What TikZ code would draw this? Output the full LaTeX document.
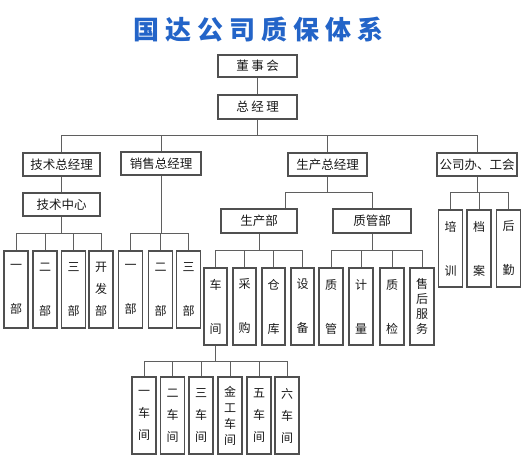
\documentclass[tikz,border=0pt]{standalone}
\usepackage{fontspec}
\newfontfamily\cjk{Noto Sans CJK SC}
\definecolor{boxgray}{RGB}{80,80,80}
\definecolor{linegray}{RGB}{95,95,95}
\definecolor{textdark}{RGB}{25,25,25}
\definecolor{titleblue}{RGB}{35,100,200}
\begin{document}
\begin{tikzpicture}[x=1pt,y=-1pt,
  box/.style={draw=boxgray, line width=1.1pt, fill=white, inner sep=0pt, text=textdark,
              font=\cjk\fontsize{12}{14}\selectfont, align=center},
  hbox/.style={box, minimum height=23pt, font=\cjk\fontsize{12.5}{14}\selectfont},
  vbox/.style={box, minimum width=24pt, minimum height=77pt},
  conn/.style={draw=linegray, line width=1pt}]
\useasboundingbox (0,0) rectangle (524,470);
\fill[white] (0,0) rectangle (524,470);

% title
\node[font=\cjk\bfseries\fontsize{26}{30}\selectfont, text=titleblue] (title) at (258.5,30)
  {国\hspace{6pt}达\hspace{6pt}公\hspace{6pt}司\hspace{6pt}质\hspace{6pt}保\hspace{6pt}体\hspace{6pt}系};

% bus coordinates
\coordinate (bus1) at (0,136);
\coordinate (bus2) at (0,233);
\coordinate (bus3) at (0,193);
\coordinate (bus4) at (0,250);
\coordinate (bus6) at (0,361);

% horizontal boxes
\node[hbox, minimum width=79pt, minimum height=22pt] (dsh) at (257.5,66) {董\hspace{2.5pt}事\hspace{2.5pt}会};
\node[hbox, minimum width=79pt, minimum height=24pt] (zjl) at (257.5,107) {总\hspace{2.5pt}经\hspace{2.5pt}理};
\node[hbox, minimum width=77pt] (jszjl) at (61.5,164.5) {技术总经理};
\node[hbox, minimum width=80pt] (xszjl) at (161,163.5) {销售总经理};
\node[hbox, minimum width=79pt] (sczjl) at (327.5,164.5) {生产总经理};
\node[hbox, minimum width=80pt] (gsb) at (477,164.5) {公司办、工会};
\node[hbox, minimum width=77pt] (jszx) at (61.5,204.5) {技术中心};
\node[hbox, minimum width=76pt, minimum height=24pt] (scb) at (259,221) {生产部};
\node[hbox, minimum width=78pt, minimum height=24pt] (zgb) at (372,221) {质管部};

% technical departments
\node[vbox] (a1) at (16,289.5) {一\\[30pt]部};
\node[vbox] (a2) at (45,289.5) {二\\[30pt]部};
\node[vbox] (a3) at (73.5,289.5) {三\\[30pt]部};
\node[vbox] (a4) at (101,289.5) {开\\[8pt]发\\[8pt]部};
% sales departments
\node[vbox] (b1) at (130.5,289.5) {一\\[30pt]部};
\node[vbox] (b2) at (160.5,289.5) {二\\[30pt]部};
\node[vbox] (b3) at (188.5,289.5) {三\\[30pt]部};
% production
\node[vbox, minimum width=23pt] (c1) at (215.5,306.5) {车\\[30pt]间};
\node[vbox, minimum width=23pt] (c2) at (244.5,306.5) {采\\[30pt]购};
\node[vbox, minimum width=23pt] (c3) at (273.5,306.5) {仓\\[30pt]库};
\node[vbox, minimum width=23pt] (c4) at (302.5,306.5) {设\\[30pt]备};
% quality
\node[vbox] (d1) at (331,306.5) {质\\[30pt]管};
\node[vbox] (d2) at (361,306.5) {计\\[30pt]量};
\node[vbox] (d3) at (392,306.5) {质\\[30pt]检};
\node[vbox] (d4) at (422,306.5) {售\\[1pt]后\\[1pt]服\\[1pt]务};
% office
\node[vbox] (e1) at (450.5,248.5) {培\\[30pt]训};
\node[vbox] (e2) at (479,248.5) {档\\[30pt]案};
\node[vbox] (e3) at (508.5,248.5) {后\\[30pt]勤};
% workshops
\node[vbox] (f1) at (144,415.5) {一\\[8pt]车\\[8pt]间};
\node[vbox] (f2) at (172.5,415.5) {二\\[8pt]车\\[8pt]间};
\node[vbox] (f3) at (201,415.5) {三\\[8pt]车\\[8pt]间};
\node[vbox] (f4) at (230,415.5) {金\\[2pt]工\\[2pt]车\\[2pt]间};
\node[vbox] (f5) at (259,415.5) {五\\[8pt]车\\[8pt]间};
\node[vbox] (f6) at (287,415.5) {六\\[8pt]车\\[8pt]间};

% connectors
\draw[conn] (dsh) -- (zjl);
\draw[conn] (zjl.south) -- (zjl.south |- bus1);
\draw[conn] (jszjl.north) |- (gsb.north |- bus1) -- (gsb.north);
\draw[conn] (xszjl.north) -- (xszjl.north |- bus1);
\draw[conn] (sczjl.north) -- (sczjl.north |- bus1);

\draw[conn] (jszjl) -- (jszx);
\draw[conn] (jszx.south) -- (jszx.south |- bus2);
\draw[conn] (a1.north) |- (a4.north |- bus2) -- (a4.north);
\draw[conn] (a2.north) -- (a2.north |- bus2);
\draw[conn] (a3.north) -- (a3.north |- bus2);

\draw[conn] (xszjl.south) -- (xszjl.south |- bus2);
\draw[conn] (b1.north) |- (b3.north |- bus2) -- (b3.north);
\draw[conn] (b2.north) -- (b2.north |- bus2);

\draw[conn] (sczjl.south) -- (sczjl.south |- bus3);
\draw[conn] ([xshift=26pt]scb.north) |- (zgb.north |- bus3) -- (zgb.north);

\draw[conn] (scb.south) -- (scb.south |- bus4);
\draw[conn] (c1.north) |- (c4.north |- bus4) -- (c4.north);
\draw[conn] (c2.north) -- (c2.north |- bus4);
\draw[conn] (c3.north) -- (c3.north |- bus4);

\draw[conn] (zgb.south) -- (zgb.south |- bus4);
\draw[conn] (d1.north) |- (d4.north |- bus4) -- (d4.north);
\draw[conn] (d2.north) -- (d2.north |- bus4);
\draw[conn] (d3.north) -- (d3.north |- bus4);

\draw[conn] (gsb.south) -- (gsb.south |- bus3);
\draw[conn] (e1.north) |- (e3.north |- bus3) -- (e3.north);
\draw[conn] (e2.north) -- (e2.north |- bus3);

\draw[conn] (c1.south) -- (c1.south |- bus6);
\draw[conn] (f1.north) |- (f6.north |- bus6) -- (f6.north);
\draw[conn] (f2.north) -- (f2.north |- bus6);
\draw[conn] (f3.north) -- (f3.north |- bus6);
\draw[conn] (f4.north) -- (f4.north |- bus6);
\draw[conn] (f5.north) -- (f5.north |- bus6);
\end{tikzpicture}
\end{document}
